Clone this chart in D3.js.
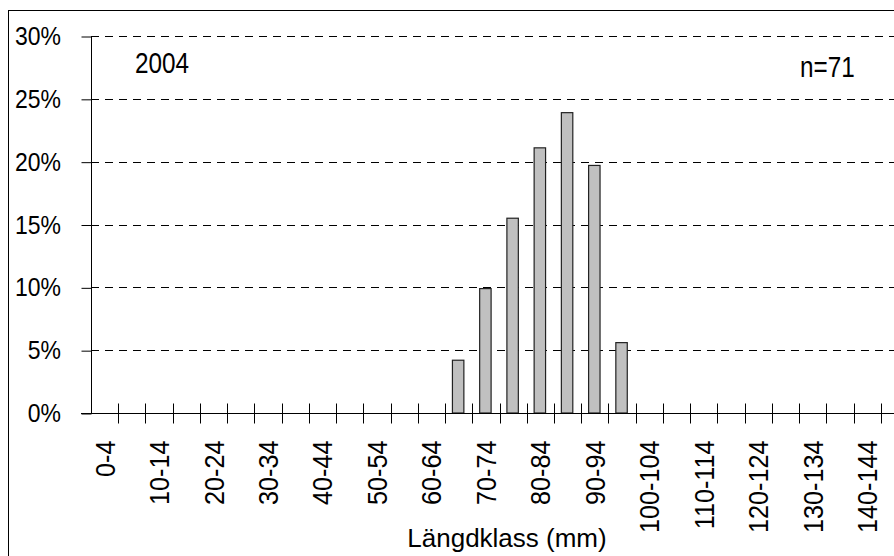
<!DOCTYPE html>
<html>
<head>
<meta charset="utf-8">
<script src="https://cdn.jsdelivr.net/npm/d3@7"></script>
<style>
  body { margin: 0; background: #fff; }
  #chart { width: 894px; height: 556px; overflow: hidden; }
  text { font-family: "Liberation Sans", Arial, sans-serif; fill: #000; }
</style>
</head>
<body>
<div id="chart"></div>
<script>
const categories = ['0-4', '5-9', '10-14', '15-19', '20-24', '25-29', '30-34', '35-39',
    '40-44', '45-49', '50-54', '55-59', '60-64', '65-69', '70-74', '75-79',
    '80-84', '85-89', '90-94', '95-99', '100-104', '105-109', '110-114', '115-119',
    '120-124', '125-129', '130-134', '135-139', '140-144', '145-149'];

// andel (%) per längdklass, n = 71
const percent = [0, 0, 0, 0, 0, 0, 0, 0,
    0, 0, 0, 0, 0, 4.2, 9.9, 15.5,
    21.1, 23.9, 19.7, 5.6, 0, 0, 0, 0,
    0, 0, 0, 0, 0, 0];

const shownLabels = ['0-4', '10-14', '20-24', '30-34', '40-44', '50-54', '60-64', '70-74',
    '80-84', '90-94', '100-104', '110-114', '120-124', '130-134', '140-144'];

const yTicks = [0, 5, 10, 15, 20, 25, 30];

const yearLabel = '2004';
const nLabel = 'n=71';
const xTitle = 'Längdklass (mm)';

// narrow text: the original uses a condensed face, so squeeze Liberation Sans
function narrowText(parent, str, px, py, size, sx, anchor, angle = 0) {
    return parent.append('g')
        .attr('transform', `translate(${px},${py}) rotate(${angle}) scale(${sx},1)`)
        .append('text')
        .attr('font-size', size)
        .attr('text-anchor', anchor)
        .text(str);
}

function createLengthChart() {
    const container = d3.select('#chart');
    container.html('');

    const W = 894, H = 556;
    const margin = {top: 36, left: 91, bottom: 143};
    const plotRight = 908;
    const plotBottom = H - margin.bottom;

    const svg = container.append('svg')
        .attr('width', W)
        .attr('height', H);

    // outer frame (cut at right/bottom in the original)
    svg.append('rect')
        .attr('x', 8.5)
        .attr('y', 10.5)
        .attr('width', 920)
        .attr('height', 600)
        .attr('fill', 'none')
        .attr('stroke', '#000')
        .attr('stroke-width', 1);

    const data = categories.map((c, i) => ({cat: c, value: percent[i]}));

    const x = d3.scaleBand()
        .domain(categories)
        .range([margin.left, plotRight])
        .padding(0);

    const y = d3.scaleLinear()
        .domain([0, 30])
        .range([plotBottom, margin.top]);

    // dashed gridlines
    svg.append('g')
        .selectAll('line')
        .data(yTicks.filter(d => d > 0))
        .enter()
        .append('line')
        .attr('x1', margin.left)
        .attr('x2', W + 20)
        .attr('y1', d => Math.round(y(d)) + 0.5)
        .attr('y2', d => Math.round(y(d)) + 0.5)
        .attr('stroke', '#000')
        .attr('stroke-width', 1)
        .attr('stroke-dasharray', '8,6');

    // y axis
    const yAxis = svg.append('g')
        .attr('transform', `translate(${margin.left + 0.5},0.5)`)
        .call(d3.axisLeft(y).tickValues(yTicks).tickSize(10).tickFormat(''));
    yAxis.select('.domain').attr('stroke', '#000').attr('d', `M0,${Math.round(y(30))}V${Math.round(y(0))}`);
    yAxis.selectAll('.tick line').attr('stroke', '#000');

    const yLabels = svg.append('g');
    yTicks.forEach(t => {
        narrowText(yLabels, t + '%', 61, y(t) + 9, 25, 0.92, 'end');
    });

    // bars
    const barW = x.bandwidth() * 0.42;
    svg.append('g')
        .selectAll('.bar')
        .data(data.filter(d => d.value > 0))
        .enter()
        .append('rect')
        .attr('class', 'bar')
        .attr('x', d => x(d.cat) + (x.bandwidth() - barW) / 2 - 0.5)
        .attr('y', d => y(d.value))
        .attr('width', barW)
        .attr('height', d => y(0) - y(d.value))
        .attr('fill', '#c0c0c0')
        .attr('stroke', '#222')
        .attr('stroke-width', 1.2);

    // x axis with cross ticks at category boundaries
    const xAxis = svg.append('g')
        .attr('transform', `translate(0,${Math.round(y(0)) + 0.5})`);
    xAxis.append('line')
        .attr('x1', margin.left - 10)
        .attr('x2', W + 20)
        .attr('stroke', '#000');
    xAxis.selectAll('.xtick')
        .data(categories)
        .enter()
        .append('line')
        .attr('class', 'xtick')
        .attr('x1', d => Math.round(x(d) + x.bandwidth()) + 0.5)
        .attr('x2', d => Math.round(x(d) + x.bandwidth()) + 0.5)
        .attr('y1', -10)
        .attr('y2', 10)
        .attr('stroke', '#000');

    shownLabels.forEach(lbl => {
        narrowText(xAxis, lbl, x(lbl) + x.bandwidth() / 2 + 10, 27, 28, 0.9, 'end', -90);
    });

    // axis title
    narrowText(svg, xTitle, 507, 547, 26, 1.0, 'middle');

    // annotations
    narrowText(svg, yearLabel, 135, 73, 30, 0.81, 'start');
    narrowText(svg, nLabel, 800, 77, 30, 0.81, 'start');
}

createLengthChart();
</script>
</body>
</html>
